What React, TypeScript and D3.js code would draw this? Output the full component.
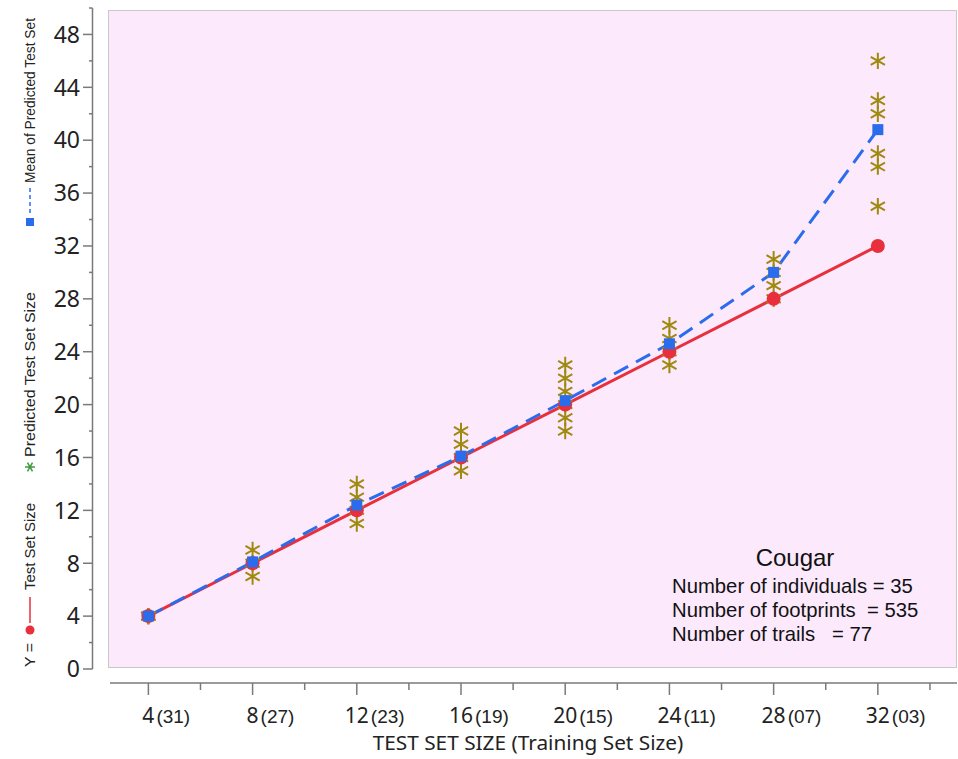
import React, { useEffect, useRef } from 'react'
import * as d3 from 'd3'

// test set sizes on the x axis, with the training set size shown in brackets
const testSizes = [4, 8, 12, 16, 20, 24, 28, 32]
const trainingLabels = ['(31)', '(27)', '(23)', '(19)', '(15)', '(11)', '(07)', '(03)']

// Y = Test Set Size (red line)
const actualSize = [4, 8, 12, 16, 20, 24, 28, 32]
// Mean of Predicted Test Set (blue dashed line)
const meanPredicted = [4, 8.1, 12.4, 16.1, 20.3, 24.6, 30, 40.8]
// Predicted Test Set Size (asterisks), one list per test set size
const predictedSizes = [
  [4, 4, 4],
  [9, 8, 7],
  [14, 13, 12, 11],
  [18, 17, 16, 15],
  [23, 22, 21, 20, 19, 18],
  [26, 25, 24, 23],
  [31, 30, 29, 28],
  [46, 43, 42, 39, 38, 35]
]

const yTicks = [0, 4, 8, 12, 16, 20, 24, 28, 32, 36, 40, 44, 48]

const noteTitle = 'Cougar'
const noteLines = [
  'Number of individuals = 35',
  'Number of footprints  = 535',
  'Number of trails   = 77'
]

const WIDTH = 958
const HEIGHT = 759

const RED = '#e8303c'
const BLUE = '#2a6ceb'
const GOLD = '#9e8a0e'
const GREEN = '#3c9a3c'
const TEXT = '#222'
const AXIS = '#7a7a7a'
const SANS = "'Noto Sans', sans-serif"
const ARIAL = "'Liberation Sans', Arial, sans-serif"

const App = () => {
  const root = useRef<SVGSVGElement>(null)

  useEffect(() => {
    const svg = d3.select(root.current)
    svg.selectAll('*').remove()

    const x = d3.scaleLinear().domain([2.45, 35]).range([108, 956])
    const y = d3.scaleLinear().domain([0, 50]).range([669, 8])

    // plot background
    svg.append('rect')
      .attr('x', 108.5)
      .attr('y', 10.5)
      .attr('width', 956 - 108)
      .attr('height', 667 - 10)
      .attr('fill', '#fce9fc')
      .attr('stroke', '#c8c8c8')

    // y axis
    const yAxis = svg.append('g').attr('class', 'y-axis')
    yAxis.append('line')
      .attr('x1', 92.5).attr('x2', 92.5)
      .attr('y1', y(50)).attr('y2', y(0))
      .attr('stroke', AXIS).attr('stroke-width', 1.5)
    yAxis.selectAll('.major')
      .data(yTicks)
      .enter()
      .append('line')
        .attr('x1', 83).attr('x2', 92.5)
        .attr('y1', (d) => y(d)).attr('y2', (d) => y(d))
        .attr('stroke', AXIS).attr('stroke-width', 1.5)
    yAxis.selectAll('.minor')
      .data(d3.range(2, 51, 4))
      .enter()
      .append('line')
        .attr('x1', 89).attr('x2', 92.5)
        .attr('y1', (d) => y(d)).attr('y2', (d) => y(d))
        .attr('stroke', AXIS).attr('stroke-width', 1.5)
    yAxis.selectAll('text')
      .data(yTicks)
      .enter()
      .append('text')
        .attr('x', 80)
        .attr('y', (d) => y(d))
        .attr('dy', '0.36em')
        .attr('text-anchor', 'end')
        .attr('font-family', SANS)
        .attr('font-size', 23)
        .attr('fill', TEXT)
        .text((d) => d)

    // x axis
    const xAxis = svg.append('g').attr('class', 'x-axis')
    xAxis.append('line')
      .attr('x1', 110).attr('x2', 957)
      .attr('y1', 683).attr('y2', 683)
      .attr('stroke', AXIS).attr('stroke-width', 1.5)
    xAxis.selectAll('.major')
      .data(testSizes)
      .enter()
      .append('line')
        .attr('x1', (d) => x(d)).attr('x2', (d) => x(d))
        .attr('y1', 683).attr('y2', 695)
        .attr('stroke', AXIS).attr('stroke-width', 1.5)
    xAxis.selectAll('.minor')
      .data(d3.range(6, 35, 4))
      .enter()
      .append('line')
        .attr('x1', (d) => x(d)).attr('x2', (d) => x(d))
        .attr('y1', 683).attr('y2', 690)
        .attr('stroke', AXIS).attr('stroke-width', 1.5)
    testSizes.forEach((d, i) => {
      const num = xAxis.append('text')
        .attr('x', x(d))
        .attr('y', 723)
        .attr('text-anchor', 'middle')
        .attr('font-family', SANS)
        .attr('font-size', 21)
        .attr('fill', TEXT)
        .text(d)
      const w = (num.node() as SVGTextElement).getComputedTextLength()
      xAxis.append('text')
        .attr('x', x(d) + w / 2 + 2)
        .attr('y', 723)
        .attr('font-family', ARIAL)
        .attr('font-size', 19)
        .attr('fill', TEXT)
        .text(trainingLabels[i])
    })
    svg.append('text')
      .attr('x', 528)
      .attr('y', 750)
      .attr('text-anchor', 'middle')
      .attr('font-family', SANS)
      .attr('font-size', 20.8)
      .attr('fill', TEXT)
      .text('TEST SET SIZE (Training Set Size)')

    // lines
    const line = d3.line<number>()
      .x((d, i) => x(testSizes[i]))
      .y((d) => y(d))
    svg.append('path')
      .datum(actualSize)
      .attr('d', line)
      .attr('fill', 'none')
      .attr('stroke', RED)
      .attr('stroke-width', 3)
    svg.append('path')
      .datum(meanPredicted)
      .attr('d', line)
      .attr('fill', 'none')
      .attr('stroke', BLUE)
      .attr('stroke-width', 3)
      .attr('stroke-dasharray', '16,9')

    // predicted asterisks
    const star = d3.symbol().type(d3.symbolAsterisk).size(190)
    const flat = predictedSizes.flatMap((vals, i) => vals.map((v) => ({ x: testSizes[i], v })))
    svg.append('g')
      .selectAll('path')
      .data(flat)
      .enter()
      .append('path')
        .attr('d', star)
        .attr('transform', (d) => 'translate(' + x(d.x) + ',' + y(d.v) + ')')
        .attr('fill', 'none')
        .attr('stroke', GOLD)
        .attr('stroke-width', 2)

    // markers
    svg.append('g')
      .selectAll('circle')
      .data(actualSize)
      .enter()
      .append('circle')
        .attr('cx', (d, i) => x(testSizes[i]))
        .attr('cy', (d) => y(d))
        .attr('r', 7)
        .attr('fill', RED)
    svg.append('g')
      .selectAll('rect')
      .data(meanPredicted)
      .enter()
      .append('rect')
        .attr('x', (d, i) => x(testSizes[i]) - 5.5)
        .attr('y', (d) => y(d) - 5.5)
        .attr('width', 11)
        .attr('height', 11)
        .attr('fill', BLUE)

    // rotated legend on the left (the original font is a narrow one, so squeeze a bit)
    const legend = svg.append('g')
      .attr('transform', 'translate(35,0) rotate(-90)')
    const legendText = (u: number, s: string, len: number) => legend.append('text')
      .attr('x', u)
      .attr('y', 0)
      .attr('font-family', ARIAL)
      .attr('font-size', 14)
      .attr('fill', TEXT)
      .attr('textLength', len)
      .attr('lengthAdjust', 'spacingAndGlyphs')
      .text(s)
    legendText(-667, 'Y =', 24)
    legend.append('circle')
      .attr('cx', -630).attr('cy', -5).attr('r', 4.5)
      .attr('fill', RED)
    legend.append('line')
      .attr('x1', -623).attr('x2', -597)
      .attr('y1', -5).attr('y2', -5)
      .attr('stroke', RED).attr('stroke-width', 1.5)
    legendText(-590, 'Test Set Size', 87)
    legend.append('path')
      .attr('d', d3.symbol().type(d3.symbolAsterisk).size(70))
      .attr('transform', 'translate(-467,-5)')
      .attr('fill', 'none')
      .attr('stroke', GREEN)
      .attr('stroke-width', 1.5)
    legendText(-457, 'Predicted Test Set Size', 165)
    legend.append('rect')
      .attr('x', -226).attr('y', -9)
      .attr('width', 8).attr('height', 8)
      .attr('fill', BLUE)
    legend.append('line')
      .attr('x1', -213).attr('x2', -187)
      .attr('y1', -5).attr('y2', -5)
      .attr('stroke', BLUE).attr('stroke-width', 1.5)
      .attr('stroke-dasharray', '4,3')
    legendText(-183, 'Mean of Predicted Test Set', 165)

    // annotation
    svg.append('text')
      .attr('x', 795)
      .attr('y', 566)
      .attr('text-anchor', 'middle')
      .attr('font-family', ARIAL)
      .attr('font-size', 24)
      .attr('fill', '#111')
      .text(noteTitle)
    svg.append('g')
      .selectAll('text')
      .data(noteLines)
      .enter()
      .append('text')
        .attr('x', 672)
        .attr('y', (d, i) => 593 + i * 24)
        .attr('font-family', ARIAL)
        .attr('font-size', 20.3)
        .attr('fill', '#111')
        .style('white-space', 'pre')
        .text((d) => d)
  }, [])

  return (
    <svg ref={root} width={WIDTH} height={HEIGHT} style={{ display: 'block', position: 'absolute', left: 0, top: 0 }} />
  )
}

export default App
